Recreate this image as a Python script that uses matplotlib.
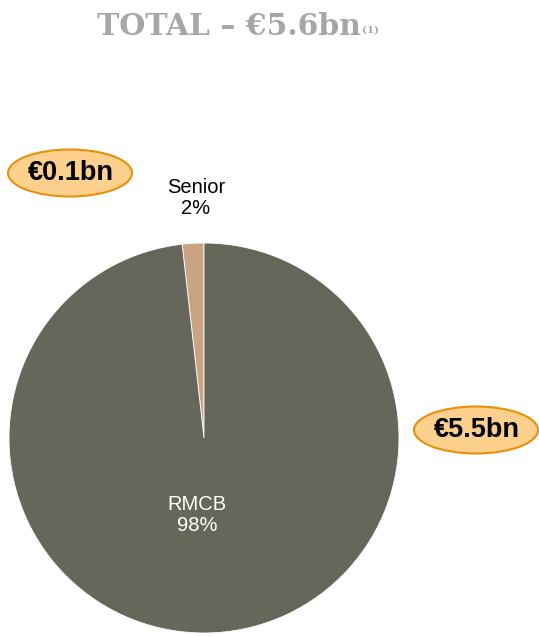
import matplotlib.pyplot as plt
from matplotlib.patches import Ellipse

# portfolio split (EUR bn)
segments = ['RMCB', 'Senior']
amounts = [5.5, 0.1]
total = 5.6
colors = ['#66675a', '#c9a382']

W, H = 539, 636
fig = plt.figure(figsize=(W / 100, H / 100), dpi=100)
ax = fig.add_axes([0, 0, 1, 1])

# pie: Senior first so it sits just left of 12 o'clock
cx, cy, r = 204, H - 438, 195
shares = [a / total * 100 for a in amounts]
wedges, _ = ax.pie(
    [amounts[1], amounts[0]],
    colors=[colors[1], colors[0]],
    explode=[0.025, 0],
    startangle=90,
    counterclock=True,
    center=(cx, cy),
    radius=r,
    wedgeprops=dict(edgecolor='white', linewidth=0.6),
)
ax.set_xlim(0, W)
ax.set_ylim(0, H)
ax.set_aspect('equal')
ax.axis('off')

lbl = dict(family='Liberation Sans', fontsize=14.5, ha='center', va='center', linespacing=1.1)
ax.text(196, H - 198, f'{segments[1]}\n{shares[1]:.0f}%', color='black', **lbl)
ax.text(197, H - 515, f'{segments[0]}\n{shares[0]:.0f}%', color='white', **lbl)

# amount call-outs
for (ex, ey), amt in [((70, 173), amounts[1]), ((476, 430), amounts[0])]:
    ax.add_patch(Ellipse((ex, H - ey), 124, 47, facecolor='#fdd08e',
                         edgecolor='#e8900a', linewidth=1.5))
    ax.text(ex + 1, H - ey, f'€{amt}bn', family='Liberation Sans', fontweight='bold',
            fontsize=19.5, ha='center', va='center', color='black')

# title
ax.text(361, H - 35, f'TOTAL – €{total}bn', family='DejaVu Serif', fontweight='bold',
        fontsize=21.5, color='#a6a6a6', ha='right', va='baseline')
ax.text(362, H - 33, '(1)', family='DejaVu Serif', fontweight='bold',
        fontsize=7.5, color='#a6a6a6', ha='left', va='baseline')

fig.savefig('out.png', dpi=100)
